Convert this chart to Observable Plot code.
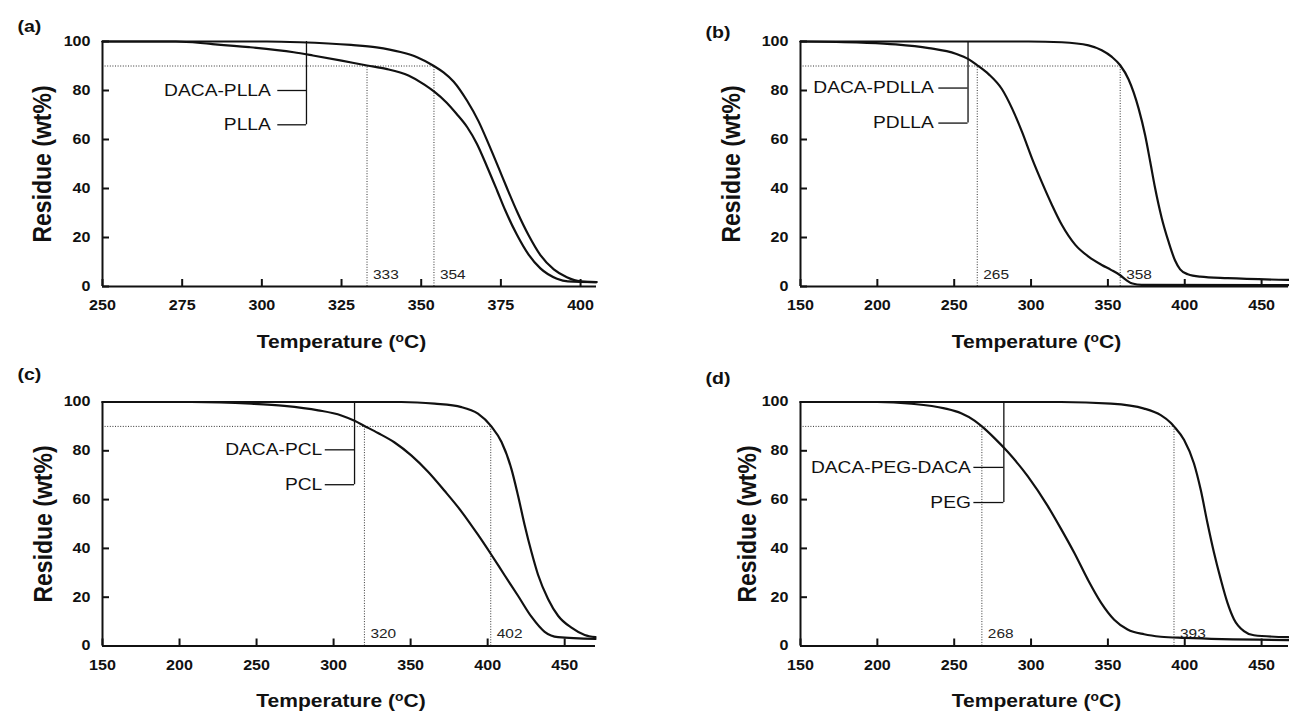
<!DOCTYPE html>
<html><head><meta charset="utf-8">
<script src="https://cdn.jsdelivr.net/npm/d3@7"></script>
<script src="https://cdn.jsdelivr.net/npm/@observablehq/plot@0.6"></script>
<style>
html,body{margin:0;padding:0;background:#fff;overflow:hidden;}
#root{position:relative;width:1289px;height:711px;}
#root svg{position:absolute;overflow:visible;}
</style></head><body><div id="root"></div>
<script>
const FONT = '"Liberation Sans", Arial, Helvetica, sans-serif';
const SX = 1.15;
const yTicks = [0, 20, 40, 60, 80, 100];

// (a)
const aXTicks = [250, 275, 300, 325, 350, 375, 400];
const aPllaT = [250, 273, 284, 296, 310, 316, 325, 333, 339, 346, 351, 354, 358, 361, 364.5, 367.5, 370.7, 373.8, 376.4, 380, 383.7, 387.4, 392.6, 396, 405];
const aPllaW = [100, 100, 99.0, 97.7, 95.6, 94.3, 92.2, 90.2, 88.8, 86.1, 82.4, 79.6, 75.0, 70.6, 64.9, 58.2, 48.8, 39.2, 31.0, 21.2, 13.0, 7.4, 3.2, 2.1, 1.8];
const aDacaT = [250, 301.6, 312, 328, 336, 343.5, 348.7, 354, 357, 360.2, 364.4, 368, 371.2, 374.3, 376.9, 380.1, 383.7, 387.4, 391.6, 395.7, 400, 405];
const aDacaW = [100, 100, 99.7, 98.6, 97.6, 95.7, 93.6, 90.0, 87.4, 83.6, 75.8, 67.4, 58.0, 48.4, 40.2, 30.5, 20.9, 12.8, 7.0, 3.8, 2.1, 1.8];
const aT10 = [333, 354];
const aNames = ["DACA-PLLA", "PLLA"];

// (b)
const bXTicks = [150, 200, 250, 300, 350, 400, 450];
const bPdllaT = [150, 190, 212, 233.5, 251, 259.5, 265, 272.5, 281, 287.7, 294.2, 300.6, 307, 313.6, 320, 328.8, 337.4, 346, 352, 358, 362, 366, 372, 467.5];
const bPdllaW = [100, 99.5, 98.8, 97.3, 95.0, 92.7, 90.3, 86.6, 80.6, 72.6, 63.0, 52.3, 42.6, 33.3, 25.2, 17.0, 12.2, 8.8, 6.8, 4.6, 2.6, 1.2, 0.7, 0.6];
const bDacaT = [150, 298.5, 320, 337.4, 346, 352.6, 358, 363.4, 370, 374.2, 377.5, 380.7, 385, 389.4, 393.7, 397, 402, 410, 428, 467.5];
const bDacaW = [100, 100, 99.7, 98.4, 96.4, 93.7, 90.3, 84.6, 72.6, 61.8, 51.0, 40.2, 28.0, 18.4, 10.6, 7.0, 5.0, 4.0, 3.4, 2.7];
const bT10 = [265, 358];
const bNames = ["DACA-PDLLA", "PDLLA"];

// (c)
const cXTicks = [150, 200, 250, 300, 350, 400, 450];
const cPclT = [150, 207.6, 246.5, 268, 290, 305, 313.6, 320, 328.8, 339.6, 350.4, 361.3, 372, 383, 393.7, 402.4, 411, 419.7, 428.4, 437, 445.7, 470];
const cPclW = [100, 100, 99.3, 98.4, 96.6, 94.5, 92.3, 90.2, 87.3, 83.4, 78.1, 71.4, 63.6, 55.1, 45.6, 37.4, 29.0, 20.6, 12.0, 5.8, 3.6, 2.9];
const cDacaT = [150, 344, 365.6, 383, 393.7, 402.4, 409, 415.4, 419.7, 424, 428.4, 432.7, 439.2, 445.7, 454.4, 463, 470];
const cDacaW = [100, 100, 99.3, 97.9, 95.2, 90.0, 83.6, 72.6, 61.7, 49.6, 38.6, 29.2, 19.3, 12.4, 7.5, 4.5, 3.6];
const cT10 = [320, 402];
const cNames = ["DACA-PCL", "PCL"];

// (d)
const dXTicks = [150, 200, 250, 300, 350, 400, 450];
const dPegT = [150, 200, 222, 243.7, 254.5, 263.2, 268, 276.2, 284.8, 297.8, 310.8, 319.5, 328.1, 336.8, 345.5, 354.1, 362.8, 373.6, 384.4, 400, 467.5];
const dPegW = [100, 100, 99.3, 97.4, 95.4, 92.4, 90.0, 85.2, 79.6, 69.6, 57.4, 48.0, 38.2, 27.4, 17.8, 10.8, 6.8, 4.8, 3.8, 3.3, 2.4];
const dDacaT = [150, 319.5, 352, 373.6, 384.4, 391, 393, 399.6, 406, 410.4, 414.7, 419, 423.4, 427.7, 432, 438.5, 445, 467.5];
const dDacaW = [100, 100, 99.3, 97.3, 94.6, 91.4, 90.0, 84.4, 74.8, 64.0, 50.6, 38.3, 27.4, 17.9, 11.0, 6.1, 4.4, 3.6];
const dT10 = [268, 393];
const dNames = ["DACA-PEG-DACA", "PEG"];

// bracket annotations (data units)
const aBracket = {x: 314, lead: 305, levels: [80, 66], gap: 7};
const bBracket = {x: 259, lead: 240, levels: [81, 66.7], gap: 5};
const cBracket = {x: 313.6, lead: 294.6, levels: [80.4, 66.1], gap: 3};
const dBracket = {x: 282.3, lead: 262.8, levels: [73.2, 58.8], gap: 3};

function toRows(T, W) { return T.map((t, i) => ({t, w: W[i]})); }

function panel(cfg) {
  const [xmin, xmax] = cfg.xDomain;
  const br = cfg.bracket;
  const plotW = cfg.width - cfg.mL - cfg.mR;
  const plotH = cfg.height - cfg.mT - cfg.mB;
  const TICK = 7; // px, inward
  const tickY = TICK * 100 / plotH;              // in y data units
  const tickX = TICK * (xmax - xmin) / plotW;    // in x data units
  const dot = {stroke: "#333", strokeWidth: 1, strokeDasharray: "1,1.6"};
  const axisStyle = {fontSize: 14, fontWeight: "bold", label: null, tickFormat: d => String(d)};
  const svg = Plot.plot({
    width: cfg.width, height: cfg.height,
    marginLeft: cfg.mL, marginRight: cfg.mR, marginTop: cfg.mT, marginBottom: cfg.mB,
    style: {fontFamily: FONT, background: "transparent", color: "#111"},
    x: {domain: cfg.xDomain},
    y: {domain: [0, 100]},
    marks: [
      Plot.ruleY([90], {x1: xmin, x2: Math.max(...cfg.t10), ...dot}),
      Plot.ruleX(cfg.t10, {x: d => d, y1: 0, y2: 90, ...dot}),
      Plot.text(cfg.t10, {x: d => d, y: 0, text: d => String(d), dx: 6, dy: -8, textAnchor: "start", lineAnchor: "bottom", fontSize: 13.4, fill: "#222"}),
      Plot.ruleX([br.x], {y1: 100, y2: Math.min(...br.levels), stroke: "#111", strokeWidth: 1.3}),
      Plot.ruleY(br.levels, {y: d => d, x1: br.lead, x2: br.x, stroke: "#111", strokeWidth: 1.3}),
      Plot.text(cfg.names, {x: br.lead, y: (d, i) => br.levels[i], text: d => d, textAnchor: "end", dx: -br.gap, fontSize: 16.7, fill: "#111"}),
      ...cfg.series.map(s => Plot.line(toRows(s[0], s[1]), {x: "t", y: "w", stroke: "#111", strokeWidth: 2.2, curve: "monotone-x"})),
      // inward ticks
      Plot.ruleX(cfg.xTicks, {x: d => d, y1: 0, y2: tickY, stroke: "#111", strokeWidth: 2}),
      Plot.ruleY(yTicks, {y: d => d, x1: xmin, x2: xmin + tickX, stroke: "#111", strokeWidth: 2}),
      // axis lines
      Plot.ruleY([0], {x1: xmin, x2: xmax, stroke: "#111", strokeWidth: 2}),
      Plot.ruleX([xmin], {y1: 0, y2: 100, stroke: "#111", strokeWidth: 2}),
      // tick labels
      Plot.axisX({ticks: cfg.xTicks, tickSize: 0, tickPadding: 14, ...axisStyle}),
      Plot.axisY({ticks: yTicks, tickSize: 0, tickPadding: 12, ...axisStyle}),
      Plot.text(["Temperature (oC)"], {frameAnchor: "bottom", dy: 61, dx: cfg.xDx, textAnchor: "middle", lineAnchor: "bottom", fontSize: 18.3, fontWeight: "bold", fill: "#111"}),
      Plot.text(["Residue (wt%)"], {frameAnchor: "left", dx: cfg.yDx, rotate: -90, textAnchor: "middle", lineAnchor: "middle", fontSize: 23, fontWeight: "bold", fill: "#111"}),
      Plot.text([cfg.tag], {frameAnchor: "top-left", dx: cfg.tagDx, dy: cfg.tagDy, textAnchor: "start", lineAnchor: "bottom", fontSize: 17, fontWeight: "bold", fill: "#111"})
    ]
  });
  svg.style.left = cfg.left + "px";
  svg.style.top = cfg.top + "px";
  // horizontal stretch of the text, as in the reference
  d3.select(svg).selectAll("text").each(function () {
    const tr = this.getAttribute("transform") || "";
    if (/translate\(/.test(tr)) this.setAttribute("transform", tr.replace(/(translate\([^)]*\))/, `$1 scale(${SX},1)`));
  });
  d3.select(svg).selectAll("text").filter(function () { return this.textContent === "Temperature (oC)"; }).each(function () {
    const t = d3.select(this);
    t.text(null);
    t.append("tspan").text("Temperature (");
    t.append("tspan").attr("font-size", "12px").attr("dy", "-6").text("o");
    t.append("tspan").attr("dy", "6").text("C)");
  });
  document.getElementById("root").appendChild(svg);
}

panel({left: 0, top: 0, width: 644, height: 355, mL: 102, mR: 48, mT: 41, mB: 69,
  xDomain: [250, 405], xTicks: aXTicks, series: [[aPllaT, aPllaW], [aDacaT, aDacaW]],
  t10: aT10, names: aNames, bracket: aBracket, tag: "(a)", tagDx: -85, tagDy: -10, yDx: -60, xDx: -8});
panel({left: 644, top: 0, width: 645, height: 355, mL: 156, mR: 1, mT: 41, mB: 69,
  xDomain: [150, 467.5], xTicks: bXTicks, series: [[bPdllaT, bPdllaW], [bDacaT, bDacaW]],
  t10: bT10, names: bNames, bracket: bBracket, tag: "(b)", tagDx: -95, tagDy: -4, yDx: -69, xDx: -8});
panel({left: 0, top: 355, width: 644, height: 356, mL: 102, mR: 49, mT: 46.5, mB: 65.5,
  xDomain: [150, 470], xTicks: cXTicks, series: [[cPclT, cPclW], [cDacaT, cDacaW]],
  t10: cT10, names: cNames, bracket: cBracket, tag: "(c)", tagDx: -85, tagDy: -22.5, yDx: -59, xDx: -8});
panel({left: 644, top: 355, width: 645, height: 356, mL: 156, mR: 1, mT: 46.5, mB: 65.5,
  xDomain: [150, 467.5], xTicks: dXTicks, series: [[dPegT, dPegW], [dDacaT, dDacaW]],
  t10: dT10, names: dNames, bracket: dBracket, tag: "(d)", tagDx: -95, tagDy: -18.5, yDx: -53, xDx: -8});
</script>
</body></html>
